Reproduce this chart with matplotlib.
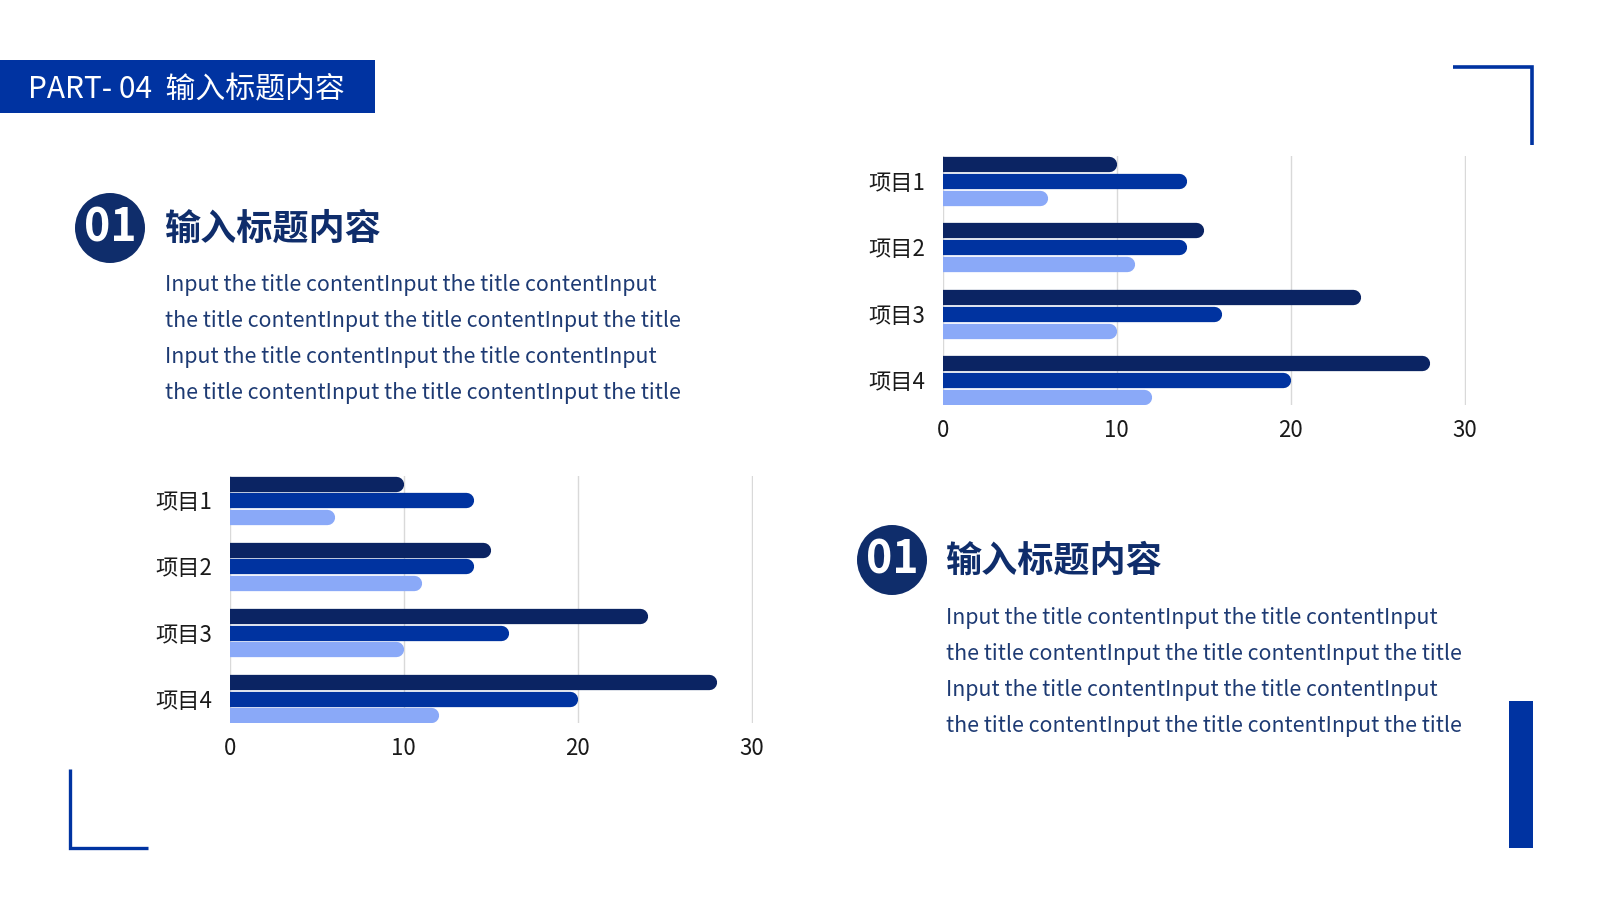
import matplotlib
matplotlib.use("Agg")
import matplotlib.pyplot as plt
import matplotlib.patches as mpatches
import matplotlib.transforms as mtransforms

plt.rcParams['font.family'] = ['Noto Sans CJK SC', 'DejaVu Sans']

# ---------------- data ----------------
categories = ["项目1", "项目2", "项目3", "项目4"]
series_a = [10, 15, 24, 28]   # dark navy (top bar)
series_b = [14, 14, 16, 20]   # medium blue (middle bar)
series_c = [6, 11, 10, 12]    # light blue (bottom bar)
x_ticks = [0, 10, 20, 30]

header_text = "PART- 04  输入标题内容"
badge_text = "01"
section_title = "输入标题内容"
body_lines = [
    "Input the title contentInput the title contentInput",
    "the title contentInput the title contentInput the title",
    "Input the title contentInput the title contentInput",
    "the title contentInput the title contentInput the title",
]

# ---------------- style ----------------
C_DARK = "#0b2463"
C_MID = "#0033a0"
C_LIGHT = "#8aa9f8"
C_ACCENT = "#0033a1"
C_NAVY = "#0f2d6b"
C_BODY = "#1d3a73"
C_GRID = "#d9d9d9"

W, H = 1600, 900
fig = plt.figure(figsize=(16, 9), dpi=100)
fig.patch.set_facecolor("white")

# overlay axes in pixel coordinates for decorations
ov = fig.add_axes([0, 0, 1, 1], zorder=0)
ov.set_xlim(0, W)
ov.set_ylim(H, 0)
ov.axis("off")

# header bar
ov.add_patch(mpatches.Rectangle((0, 60), 375, 53, color=C_ACCENT, lw=0))
ov.text(28, 90, header_text, color="white", fontsize=21.5, va="center", ha="left")

# corner brackets
ov.plot([1453, 1532, 1532], [67, 67, 145], color=C_ACCENT, lw=2.6,
        solid_capstyle="butt", solid_joinstyle="miter")
ov.plot([70, 70, 148], [769, 848, 848], color=C_ACCENT, lw=2.4,
        solid_capstyle="butt", solid_joinstyle="miter")
# right vertical bar
ov.add_patch(mpatches.Rectangle((1509, 701), 24, 147, color=C_ACCENT, lw=0))


def text_block(cx, cy, tx, ty, line_y):
    ov.add_patch(mpatches.Circle((cx, cy), 35, color=C_NAVY, lw=0))
    ov.text(cx, cy + 1, badge_text, color="white", fontsize=32, fontweight="bold",
            ha="center", va="center")
    ov.text(tx, ty, section_title, color=C_NAVY, fontsize=26, fontweight="black",
            ha="left", va="center")
    for y, line in zip(line_y, body_lines):
        ov.text(tx, y, line, color=C_BODY, fontsize=15.4, ha="left", va="center")


text_block(110, 228, 165, 229, [285, 321, 357, 393])
text_block(892, 560, 946, 561, [618, 654, 690, 726])


def bar_chart(rect):
    ax = fig.add_axes(rect, zorder=1)
    ax.set_facecolor("none")
    ax.set_xlim(0, 30.08)
    ax.set_ylim(3.371, -0.371)
    ax.set_axisbelow(True)
    ax.grid(axis="x", color=C_GRID, lw=1)
    ax.set_xticks(x_ticks)
    ax.set_yticks(range(len(categories)))
    ax.set_yticklabels(categories)
    for s in ax.spines.values():
        s.set_visible(False)
    ax.tick_params(axis="both", length=0, labelsize=16, labelcolor="#1a1a1a")
    ax.tick_params(axis="x", pad=10)
    ax.tick_params(axis="y", pad=13)

    lw = 11.0  # points (bar thickness)
    # shift left by half the cap so the rounded end finishes exactly at the value
    shifted = mtransforms.offset_copy(ax.transData, fig=fig, x=-lw / 2, y=0,
                                      units="points")
    off = 0.256
    for i in range(len(categories)):
        for vals, color, dy in ((series_a, C_DARK, -off),
                                (series_b, C_MID, 0.0),
                                (series_c, C_LIGHT, off)):
            ax.plot([0, vals[i]], [i + dy, i + dy], color=color, lw=lw,
                    solid_capstyle="round", transform=shifted, zorder=3)
    return ax


bar_chart([943 / W, 1 - 405 / H, 523 / W, 249 / H])
bar_chart([230 / W, 1 - 723 / H, 523 / W, 247 / H])

fig.savefig("out.png", dpi=100, facecolor="white")
